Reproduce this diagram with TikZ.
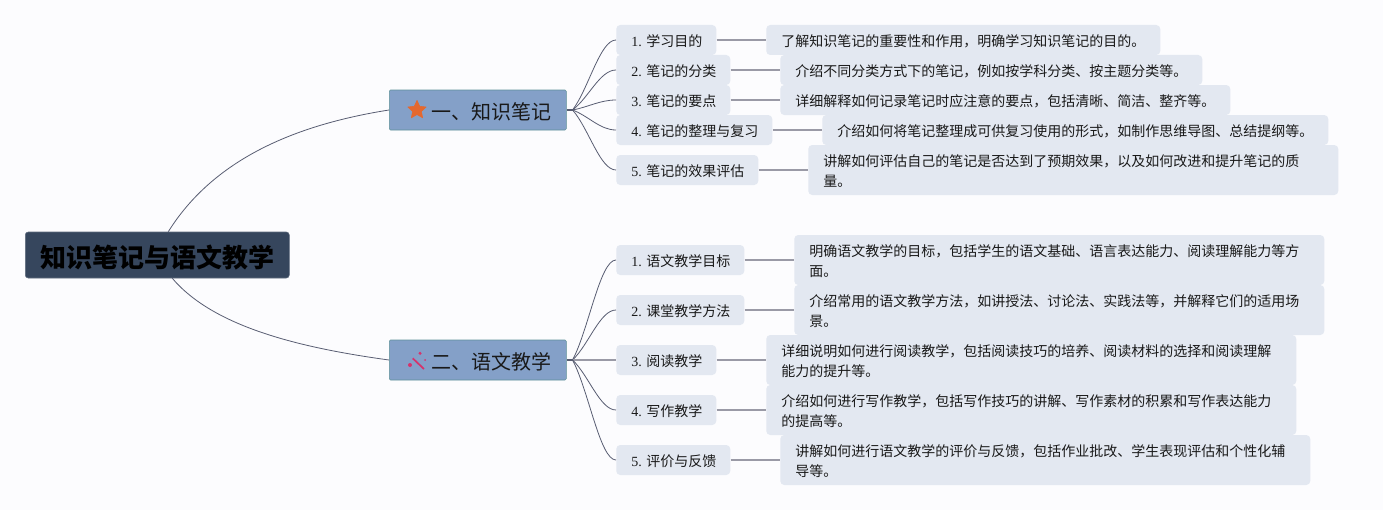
\documentclass[tikz,border=0pt]{standalone}
\usepackage{fontspec}
\setmainfont{Noto Sans CJK SC}
\newfontfamily\myLatin{Liberation Serif}
\usetikzlibrary{calc,shapes.geometric}
\definecolor{myPaper}{HTML}{FCFCFE}
\definecolor{myRootFill}{HTML}{36465D}
\definecolor{myTopicFill}{HTML}{84A0C8}
\definecolor{myTopicLine}{HTML}{5F9198}
\definecolor{myLeafFill}{HTML}{E3E8F1}
\definecolor{myCurve}{HTML}{585D72}
\definecolor{myStraight}{HTML}{9A9AA6}
\definecolor{myOrange}{HTML}{E4682F}
\definecolor{myPink}{HTML}{D6336C}
\tikzset{
myRoot/.style={
	rectangle,draw=myRootFill!80,fill=myRootFill,rounded corners=2.2pt,
	anchor=west,inner sep=0pt,minimum width=198pt,minimum height=34.5pt,
	text=black,text height=21pt,font=\fontsize{19.5pt}{24pt}\selectfont\bfseries
}
, myTopic/.style={
	rectangle,draw=myTopicLine,fill=myTopicFill,rounded corners=1pt,
	anchor=west,inner xsep=11.25pt,inner ysep=0pt,minimum height=30pt,
	text width=110.25pt,align=right,text=black!90,text height=16pt,
	font=\fontsize{15pt}{18pt}\selectfont
}
, myItem/.style={
	rectangle,fill=myLeafFill,rounded corners=3pt,
	anchor=west,inner xsep=11.25pt,inner ysep=0pt,minimum height=22.5pt,
	text width=#1,align=left,text=black!90,text height=11pt,
	font=\fontsize{10.5pt}{15pt}\selectfont
}
, myDetail/.style={myItem=#1}
, myDetailTwo/.style={myDetail=#1,minimum height=37.5pt}
% link
, myHubLink/.style={color=myCurve,line width=1.2pt}
, myCurveLink/.style={color=myCurve,line width=0.6pt}
, myLineLink/.style={color=myStraight,line width=1.1pt}
}
\begin{document}
\begin{tikzpicture}[x=0.75pt,y=-0.75pt]
	\fill[myPaper] (0,0) rectangle (1383,510);
	\useasboundingbox (0,0) rectangle (1383,510);
	% root and topics
	\node[myRoot] (Root) at (25,255) {知识笔记与语文教学};
	\node[myTopic] (TopicA) at (389,110) {一、知识笔记};
	\node[myTopic] (TopicB) at (389,360) {二、语文教学};
	\coordinate (HubA) at ($(TopicA.east)+(6,0)$);
	\coordinate (HubB) at ($(TopicB.east)+(6,0)$);
	% icons
	\node[star,star points=5,star point ratio=2.1,fill=myOrange,draw=myOrange,line join=round,inner sep=0pt,minimum size=14.5pt] (StarIcon) at ($(TopicA.west)+(28,0)$) {};
	\draw[myPink,line width=1.3pt] ($(TopicB.west)+(23.7,-1.7)$) -- ($(TopicB.west)+(35,9)$);
	\fill[myPink] ($(TopicB.west)+(31,-6.7)$) circle (1.7);
	\fill[myPink] ($(TopicB.west)+(21,5)$) circle (2);
	\fill[myPink] ($(TopicB.west)+(36,0)$) circle (1);
	% topic one
	\node[myItem=52.5pt] (ItemA) at (616,40) {{\myLatin 1.~}学习目的};
	\node[myItem=63pt] (ItemB) at (616,70) {{\myLatin 2.~}笔记的分类};
	\node[myItem=63pt] (ItemC) at (616,100) {{\myLatin 3.~}笔记的要点};
	\node[myItem=94.5pt] (ItemD) at (616,130) {{\myLatin 4.~}笔记的整理与复习};
	\node[myItem=84pt] (ItemE) at (616,170) {{\myLatin 5.~}笔记的效果评估};
	\node[myDetail=273pt] (DetailA) at (766,40) {了解知识笔记的重要性和作用，明确学习知识笔记的目的。};
	\node[myDetail=294pt] (DetailB) at (780,70) {介绍不同分类方式下的笔记，例如按学科分类、按主题分类等。};
	\node[myDetail=315pt] (DetailC) at (780,100) {详细解释如何记录笔记时应注意的要点，包括清晰、简洁、整齐等。};
	\node[myDetail=357pt] (DetailD) at (822,130) {介绍如何将笔记整理成可供复习使用的形式，如制作思维导图、总结提纲等。};
	\node[myDetailTwo=375pt] (DetailE) at (808,170) {讲解如何评估自己的笔记是否达到了预期效果，以及如何改进和提升笔记的质\\量。};
	% topic two
	\node[myItem=73.5pt] (ItemF) at (616,260) {{\myLatin 1.~}语文教学目标};
	\node[myItem=73.5pt] (ItemG) at (616,310) {{\myLatin 2.~}课堂教学方法};
	\node[myItem=52.5pt] (ItemH) at (616,360) {{\myLatin 3.~}阅读教学};
	\node[myItem=52.5pt] (ItemI) at (616,410) {{\myLatin 4.~}写作教学};
	\node[myItem=63pt] (ItemJ) at (616,460) {{\myLatin 5.~}评价与反馈};
	\node[myDetailTwo=375pt] (DetailF) at (794,260) {明确语文教学的目标，包括学生的语文基础、语言表达能力、阅读理解能力等方\\面。};
	\node[myDetailTwo=375pt] (DetailG) at (794,310) {介绍常用的语文教学方法，如讲授法、讨论法、实践法等，并解释它们的适用场\\景。};
	\node[myDetailTwo=375pt] (DetailH) at (766,360) {详细说明如何进行阅读教学，包括阅读技巧的培养、阅读材料的选择和阅读理解\\能力的提升等。};
	\node[myDetailTwo=375pt] (DetailI) at (766,410) {介绍如何进行写作教学，包括写作技巧的讲解、写作素材的积累和写作表达能力\\的提高等。};
	\node[myDetailTwo=375pt] (DetailJ) at (780,460) {讲解如何进行语文教学的评价与反馈，包括作业批改、学生表现评估和个性化辅\\导等。};
	% links
	\draw[myCurveLink] ($(Root.north)+(11,0)$) .. controls +(45,-72) and +(-95,15) .. (TopicA.west);
	\draw[myCurveLink] ($(Root.south)+(15,0)$) .. controls +(40,47) and +(-95,-13) .. (TopicB.west);

	\draw[myHubLink] (TopicA.east) -- (HubA);
	\draw[myCurveLink] (HubA) .. controls +(16,-21) and +(-16,0) .. (ItemA.west);
	\draw[myCurveLink] (HubA) .. controls +(16,-12) and +(-16,0) .. (ItemB.west);
	\draw[myCurveLink] (HubA) .. controls +(16,-3) and +(-16,0) .. (ItemC.west);
	\draw[myCurveLink] (HubA) .. controls +(16,6) and +(-16,0) .. (ItemD.west);
	\draw[myCurveLink] (HubA) .. controls +(16,18) and +(-16,0) .. (ItemE.west);

	\draw[myHubLink] (TopicB.east) -- (HubB);
	\draw[myCurveLink] (HubB) .. controls +(16,-30) and +(-16,0) .. (ItemF.west);
	\draw[myCurveLink] (HubB) .. controls +(16,-15) and +(-16,0) .. (ItemG.west);
	\draw[myLineLink] (HubB) -- (ItemH.west);
	\draw[myCurveLink] (HubB) .. controls +(16,15) and +(-16,0) .. (ItemI.west);
	\draw[myCurveLink] (HubB) .. controls +(16,30) and +(-16,0) .. (ItemJ.west);

	\draw[myLineLink] (ItemA.east) -- (DetailA.west);
	\draw[myLineLink] (ItemB.east) -- (DetailB.west);
	\draw[myLineLink] (ItemC.east) -- (DetailC.west);
	\draw[myLineLink] (ItemD.east) -- (DetailD.west);
	\draw[myLineLink] (ItemE.east) -- (DetailE.west);
	\draw[myLineLink] (ItemF.east) -- (DetailF.west);
	\draw[myLineLink] (ItemG.east) -- (DetailG.west);
	\draw[myLineLink] (ItemH.east) -- (DetailH.west);
	\draw[myLineLink] (ItemI.east) -- (DetailI.west);
	\draw[myLineLink] (ItemJ.east) -- (DetailJ.west);
\end{tikzpicture}
\end{document}
